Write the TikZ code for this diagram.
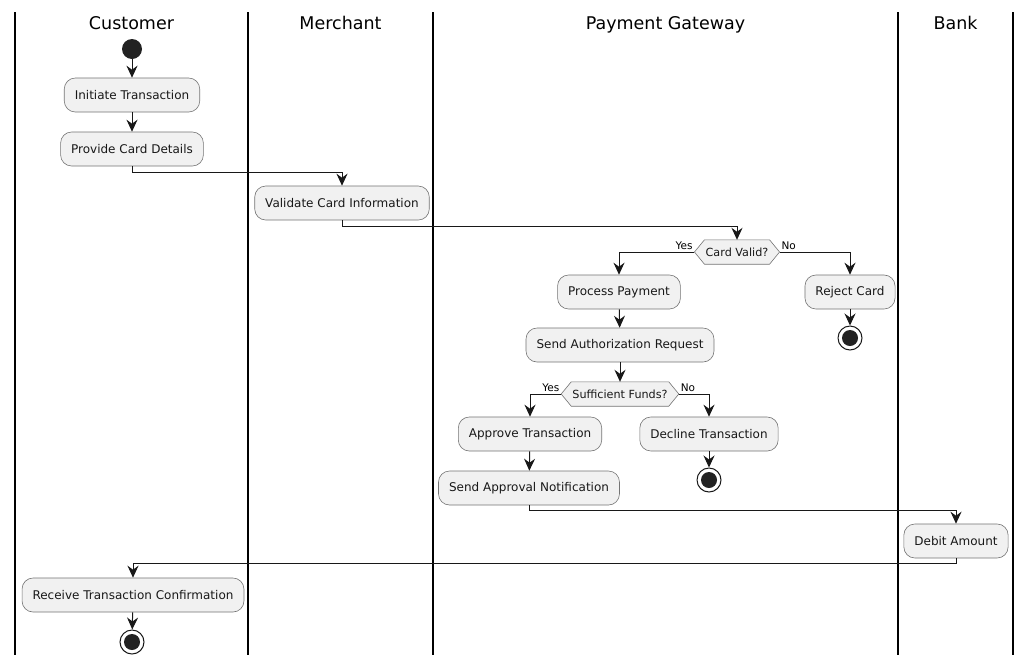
\documentclass[tikz,border=0pt]{standalone}
\usepackage{fontspec}
\setmainfont{DejaVu Sans}
\usetikzlibrary{arrows.meta,backgrounds}
\definecolor{boxfill}{HTML}{F1F1F1}
\definecolor{ink}{HTML}{181818}
\definecolor{dot}{HTML}{222222}
\tikzset{
  act/.style={draw=ink!60, line width=0.6pt, fill=boxfill, rounded corners=11pt,
    minimum height=34pt, inner xsep=10.5pt, font=\fontsize{12}{14}\selectfont, text=ink},
  choice/.style={minimum height=24pt, inner xsep=11pt, inner ysep=0pt,
    font=\fontsize{11.2}{13}\selectfont, text=ink},
  hexshape/.style={draw=ink!60, line width=0.6pt, fill=boxfill},
  flow/.style={draw=ink, line width=1pt, -{Stealth[length=12pt,width=11pt,inset=4pt]}},
  lane/.style={draw=black, line width=1.4pt},
  lanetitle/.style={font=\fontsize{17.5}{20}\selectfont, text=black, anchor=base},
  branchlbl/.style={font=\fontsize{10.5}{12}\selectfont, inner sep=1.5pt, text=black},
  startdot/.style={circle, fill=dot, minimum size=20pt, inner sep=0pt},
  stopring/.style={circle, draw=ink, line width=1pt, fill=white, minimum size=24pt, inner sep=0pt},
  stopcore/.style={circle, fill=dot, minimum size=16pt, inner sep=0pt}
}
\begin{document}
\begin{tikzpicture}[x=1pt, y=-1pt]
\useasboundingbox (0,0) rectangle (1030,665);

% swimlane separators
\foreach \lx in {15,248,433,898,1013}
  \draw[lane] (\lx,12) -- (\lx,655);

% lane titles
\node[lanetitle] (tcust) at (131.5,29) {Customer};
\node[lanetitle] (tmerc) at (340.5,29) {Merchant};
\node[lanetitle] (tpg)   at (665.5,29) {Payment Gateway};
\node[lanetitle] (tbank) at (955.5,29) {Bank};

% activities
\node[startdot] (start) at (132,49) {};
\node[act] (init) at (132,95)  {Initiate Transaction};
\node[act] (prov) at (132,149) {Provide Card Details};
\node[act] (vali) at (342,203) {Validate Card Information};
\node[choice] (cval) at (737,252) {Card Valid?};
\node[act] (proc) at (619,292) {Process Payment};
\node[act] (rej)  at (850,292) {Reject Card};
\node[stopring] (endA) at (850,338) {};
\node[stopcore] at (endA) {};
\node[act] (auth) at (620,345) {Send Authorization Request};
\node[choice] (funds) at (620,394) {Sufficient Funds?};
\node[act] (appr) at (530,434) {Approve Transaction};
\node[act] (decl) at (709,434) {Decline Transaction};
\node[stopring] (endB) at (709,480) {};
\node[stopcore] at (endB) {};
\node[act] (note) at (529,488) {Send Approval Notification};
\node[act] (debit) at (956,541) {Debit Amount};
\node[act] (recv) at (133,595) {Receive Transaction Confirmation};
\node[stopring] (endC) at (132,642) {};
\node[stopcore] at (endC) {};

% white page, then hexagonal decision outlines behind their labels
\begin{scope}[on background layer]
\fill[white] (0,0) rectangle (1030,665);
\foreach \d in {cval,funds}
  \draw[hexshape] (\d.west) -- ([xshift=10pt]\d.north west) -- ([xshift=-10pt]\d.north east)
    -- (\d.east) -- ([xshift=-10pt]\d.south east) -- ([xshift=10pt]\d.south west) -- cycle;
\end{scope}

% control flow
\draw[flow] (start) -- (init);
\draw[flow] (init) -- (prov);
\draw[flow] (prov.south) -- ++(0,6) -| (vali.north);
\draw[flow] (vali.south) -- ++(0,6) -| (cval.north);
\draw[flow] (cval.west) node[branchlbl, above left] {Yes} -| (proc.north);
\draw[flow] (cval.east) node[branchlbl, above right] {No} -| (rej.north);
\draw[flow] (rej) -- (endA);
\draw[flow] (proc) -- (auth);
\draw[flow] (auth) -- (funds);
\draw[flow] (funds.west) node[branchlbl, above left] {Yes} -| (appr.north);
\draw[flow] (funds.east) node[branchlbl, above right] {No} -| (decl.north);
\draw[flow] (decl) -- (endB);
\draw[flow] (appr) -- (note);
\draw[flow] (note.south) -- ++(0,5) -| (debit.north);
\draw[flow] (debit.south) -- ++(0,5) -| (recv.north);
\draw[flow] (recv) -- (endC);
\end{tikzpicture}
\end{document}
